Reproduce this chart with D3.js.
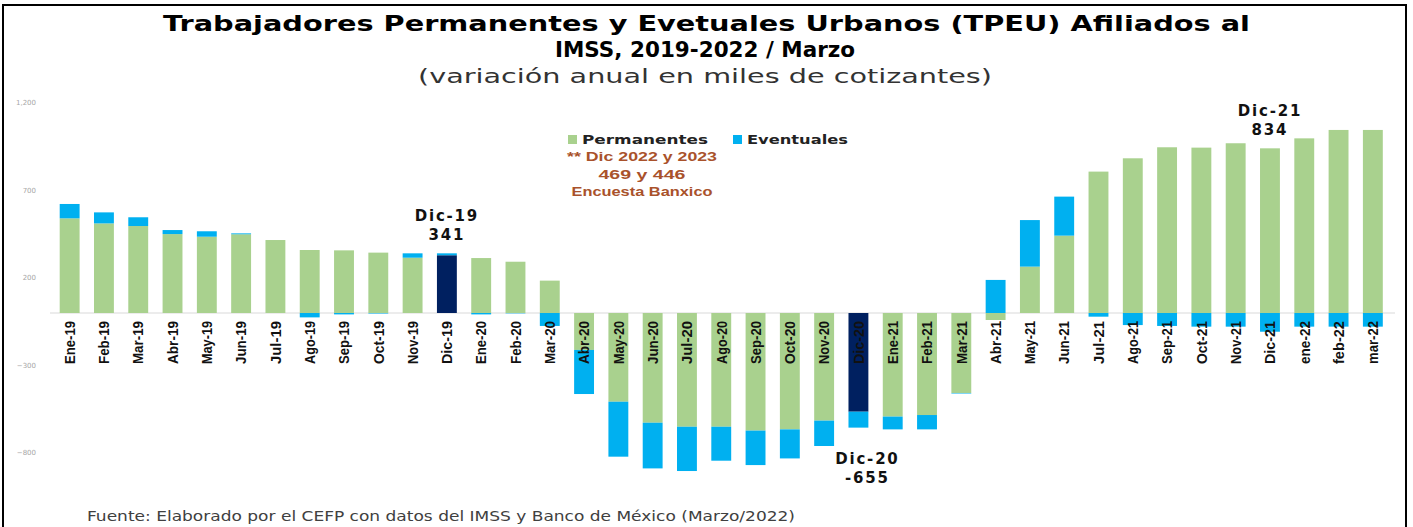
<!DOCTYPE html>
<html>
<head>
<meta charset="utf-8">
<script src="https://cdn.jsdelivr.net/npm/d3@7"></script>
<style>
  body { margin: 0; background: #fff; }
  svg { display: block; }
</style>
</head>
<body>
<div id="chart"></div>
<script>
// meses (eje x)
var months = ["Ene-19", "Feb-19", "Mar-19", "Abr-19", "May-19", "Jun-19", "Jul-19", "Ago-19", "Sep-19", "Oct-19", "Nov-19", "Dic-19",
    "Ene-20", "Feb-20", "Mar-20", "Abr-20", "May-20", "Jun-20", "Jul-20", "Ago-20", "Sep-20", "Oct-20", "Nov-20", "Dic-20",
    "Ene-21", "Feb-21", "Mar-21", "Abr-21", "May-21", "Jun-21", "Jul-21", "Ago-21", "Sep-21", "Oct-21", "Nov-21", "Dic-21",
    "ene-22", "feb-22", "mar-22"];

// variacion anual, miles de cotizantes
var permanentes = [541, 512, 497, 451, 436, 450, 417, 360, 358, 345, 316, 330,
    314, 293, 185, -211, -507, -627, -650, -650, -672, -665, -615, -564,
    -592, -583, -457, -40, 265, 442, 808, 884, 947, 945, 970, 941,
    998, 1046, 1046];
var eventuales = [82, 63, 50, 23, 31, 5, 0, -25, -8, -3, 25, 11,
    -8, -2, -74, -252, -314, -261, -253, -194, -197, -166, -145, -91,
    -73, -82, -3, 189, 266, 223, -21, -69, -74, -78, -78, -107,
    -78, -78, -78];

var yTicks = [1200, 700, 200, -300, -800];

var highlightMonths = ["Dic-19", "Dic-20"];
var calloutMonths = ["Dic-19", "Dic-20", "Dic-21"];
var calloutValues = ["341", "-655", "834"];

var noteLines = ["** Dic 2022 y 2023", "469 y 446", "Encuesta Banxico"];
var seriesNames = ["Permanentes", "Eventuales"];

var W = 1413, H = 527;
var green = "#a9d18e", blue = "#00b0f0", navy = "#002060";

var rows = months.map(function (m, i) {
    return { month: m, Permanentes: permanentes[i], Eventuales: eventuales[i] };
});

var stacked = d3.stack()
    .keys(seriesNames)
    .offset(d3.stackOffsetDiverging)(rows);

var x = d3.scaleBand()
    .domain(months)
    .range([52.5, 1390])
    .paddingInner(0.42)
    .paddingOuter(0.21);

var y = d3.scaleLinear()
    .domain([-800, 1200])
    .range([453, 103]);

var svg = d3.select("#chart").append("svg")
    .attr("width", W)
    .attr("height", H);

// marco
svg.append("rect")
    .attr("x", 3).attr("y", 5)
    .attr("width", 1403).attr("height", H + 10)
    .attr("fill", "none")
    .attr("stroke", "#000")
    .attr("stroke-width", 2);

// titulo
var titleFont = "'DejaVu Sans', 'Open Sans', sans-serif";
svg.append("text")
    .attr("x", 163).attr("y", 31)
    .attr("textLength", 1087).attr("lengthAdjust", "spacingAndGlyphs")
    .attr("font-family", titleFont).attr("font-weight", "bold").attr("font-size", 22)
    .text("Trabajadores Permanentes y Evetuales Urbanos (TPEU) Afiliados al");
svg.append("text")
    .attr("x", 555).attr("y", 57)
    .attr("textLength", 300).attr("lengthAdjust", "spacingAndGlyphs")
    .attr("font-family", titleFont).attr("font-weight", "bold").attr("font-size", 22)
    .text("IMSS, 2019-2022 / Marzo");
svg.append("text")
    .attr("x", 418).attr("y", 83)
    .attr("textLength", 574).attr("lengthAdjust", "spacingAndGlyphs")
    .attr("font-family", titleFont).attr("font-size", 20).attr("fill", "#333")
    .text("(variación anual en miles de cotizantes)");

// leyenda
var legendX = [568, 733];
var legendW = [126, 101];
var legend = svg.append("g");
seriesNames.forEach(function (name, i) {
    legend.append("rect")
        .attr("x", legendX[i]).attr("y", 135)
        .attr("width", 9).attr("height", 9)
        .attr("fill", i === 0 ? green : blue);
    legend.append("text")
        .attr("x", legendX[i] + 14).attr("y", 144)
        .attr("textLength", legendW[i]).attr("lengthAdjust", "spacingAndGlyphs")
        .attr("font-family", titleFont).attr("font-weight", "bold").attr("font-size", 12)
        .attr("fill", "#222")
        .text(name);
});

// nota Banxico
var noteW = [150, 87, 141];
svg.append("g").selectAll("text")
    .data(noteLines).enter().append("text")
    .attr("x", (d, i) => 642 - noteW[i] / 2)
    .attr("y", (d, i) => 161 + i * 17.5)
    .attr("textLength", (d, i) => noteW[i]).attr("lengthAdjust", "spacingAndGlyphs")
    .attr("font-family", "'Liberation Sans', 'Noto Sans', sans-serif")
    .attr("font-weight", "bold").attr("font-size", 13)
    .attr("fill", "#a9522b")
    .text(d => d);

// eje y (solo etiquetas)
svg.append("g").selectAll("text")
    .data(yTicks).enter().append("text")
    .attr("x", 36)
    .attr("y", d => y(d))
    .attr("dy", "0.35em")
    .attr("text-anchor", "end")
    .attr("font-family", "'DejaVu Sans', sans-serif")
    .attr("font-size", 7)
    .attr("fill", "#a6a6a6")
    .text(d => d3.format(",")(d));

// linea cero
svg.append("line")
    .attr("x1", 50).attr("x2", 1395)
    .attr("y1", y(0)).attr("y2", y(0))
    .attr("stroke", "#d9d9d9")
    .attr("stroke-width", 1);

// barras
svg.append("g").selectAll("g")
    .data(stacked).enter().append("g")
    .each(function (series) {
        d3.select(this).selectAll("rect")
            .data(series).enter().append("rect")
            .attr("x", d => x(d.data.month))
            .attr("width", x.bandwidth())
            .attr("y", d => y(Math.max(d[0], d[1])))
            .attr("height", d => Math.abs(y(d[0]) - y(d[1])))
            .attr("fill", d => {
                if (series.key === "Eventuales") return blue;
                return highlightMonths.indexOf(d.data.month) >= 0 ? navy : green;
            });
    });

// etiquetas del eje x
svg.append("g").selectAll("text")
    .data(months).enter().append("text")
    .attr("transform", m => "translate(" + (x(m) + x.bandwidth() / 2) + "," + 321 + ") rotate(-90)")
    .attr("dy", "0.35em")
    .attr("text-anchor", "end")
    .attr("textLength", 43).attr("lengthAdjust", "spacingAndGlyphs")
    .attr("font-family", "'Liberation Sans', 'Arial', sans-serif")
    .attr("font-weight", "bold").attr("font-size", 15)
    .attr("fill", "#111")
    .text(m => m);

// llamadas Dic-19, Dic-20, Dic-21
calloutMonths.forEach(function (m, i) {
    var idx = months.indexOf(m);
    var top = d3.max(stacked, s => s[idx][1]);
    var bottom = d3.min(stacked, s => s[idx][0]);
    var cx = x(m) + x.bandwidth() / 2;
    var above = permanentes[idx] + eventuales[idx] > 0;
    var y1 = above ? y(top) - 32 : y(bottom) + 36;
    var g = svg.append("g")
        .attr("font-family", titleFont)
        .attr("font-weight", "bold")
        .attr("font-size", 15)
        .attr("letter-spacing", 1.8)
        .attr("text-anchor", "middle")
        .attr("fill", "#111");
    g.append("text").attr("x", above ? cx : cx + 9).attr("y", y1).text(m);
    g.append("text").attr("x", above ? cx : cx + 9).attr("y", y1 + 19).text(calloutValues[i]);
});

// fuente
svg.append("text")
    .attr("x", 87).attr("y", 521)
    .attr("textLength", 708).attr("lengthAdjust", "spacingAndGlyphs")
    .attr("font-family", "'DejaVu Sans', sans-serif")
    .attr("font-size", 14)
    .attr("fill", "#404040")
    .text("Fuente: Elaborado por el CEFP con datos del IMSS y Banco de México (Marzo/2022)");
</script>
</body>
</html>
